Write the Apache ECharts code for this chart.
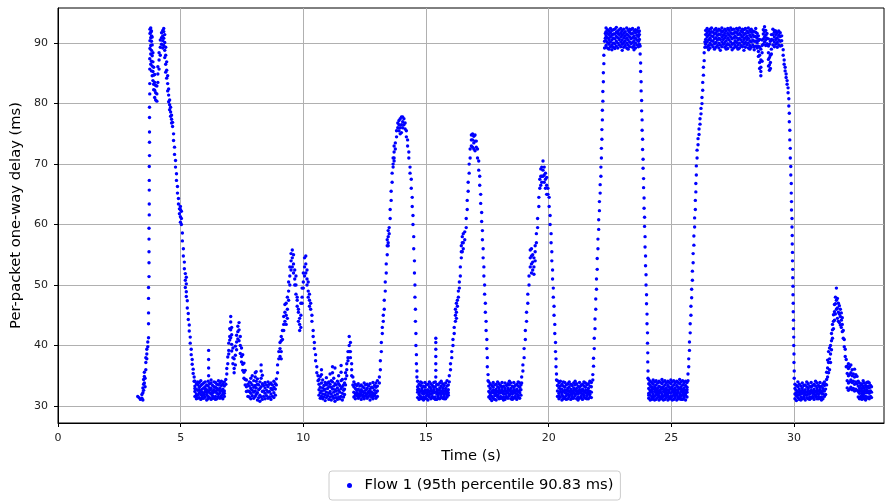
<!DOCTYPE html>
<html>
<head>
<meta charset="utf-8">
<script src="https://cdn.jsdelivr.net/npm/echarts@6/dist/echarts.min.js"></script>
<style>html,body{margin:0;padding:0;background:#fff}#c{width:885px;height:502px}</style>
</head>
<body>
<div id="c"></div>
<script>
// Each entry: [time (s), [delays (ms) observed at that time]]
const startRise = [
[3.25,[31.6]],[3.30,[31.4]],[3.36,[31.1]],[3.42,[31.3,31.9]],[3.46,[31.0,32.2,33.0]],[3.49,[33.6,34.4,32.6]],
[3.52,[34.9,35.6,33.8]],[3.55,[33.2,34.6]],[3.58,[36.0,37.2,38.0]],[3.62,[38.6,39.4,37.8]],[3.66,[39.8,40.6]],
[3.69,[41.3,43.6,45.4,47.8,49.6]],[3.71,[51.4,53.7,55.5,57.6,59.4]],[3.72,[61.6,63.4,65.7,67.3,69.6]],
[3.73,[71.4,73.6,75.3,77.7,79.4]],[3.74,[81.6,83.3,85.7,87.4]],[3.75,[89.1,90.4,91.6,92.3]],
[3.78,[92.5,91.8,90.9,89.6,88.2,86.5]],[3.81,[92.0,91.2,90.3,88.8,87.0,85.4]],[3.84,[91.0,89.7,87.9,86.2,84.6]],
[3.87,[88.4,86.9,85.3,83.8]],[3.90,[86.0,84.7,83.2,82.3]],[3.94,[84.8,83.5,82.2,81.0]],[3.98,[83.0,81.8,80.6]],
[4.03,[80.4,81.6,82.9]],[4.07,[83.5,84.9,86.1]],[4.12,[85.7,87.2,88.4]],[4.17,[88.0,89.3,90.5]],[4.22,[89.8,90.9,91.7]],
[4.27,[91.2,92.1,90.4,89.2]],[4.31,[91.9,90.8,89.6,92.4]],[4.35,[91.4,90.1,88.8,87.6]],[4.39,[89.3,88.0,86.5,85.2]],
[4.43,[86.9,85.5,84.2]],[4.47,[84.6,83.3,82.1]],[4.51,[82.4,81.4,80.3]],[4.55,[80.6,79.8,79.0]],[4.59,[79.4,78.6,77.9]],
[4.63,[78.1,77.4,76.8]],[4.67,[76.9,76.2]],[4.71,[75.0,73.9]],[4.75,[72.8,71.6]],[4.79,[70.6,69.5]],[4.83,[68.4,67.3]],
[4.87,[66.3,65.2]],[4.91,[64.3,63.4]],[4.95,[62.6,61.8]],[4.99,[60.4,61.3,62.5,63.0]],[5.03,[60.0,61.0,62.2]],
[5.07,[58.6,57.3]],[5.11,[56.0,54.8]],[5.15,[53.8,52.7]],[5.19,[51.9,50.8,49.6]],[5.23,[51.3,50.2,48.9,48.1]],
[5.27,[47.4,46.2]],[5.31,[45.3,44.3]],[5.35,[43.4,42.4]],[5.39,[41.4,40.4]],[5.43,[39.4,38.5]],[5.47,[37.7,36.9]],
[5.51,[36.1,35.4]],[5.55,[34.8,34.1]]
];
const band1 = [
[5.58,[31.6,32.4,33.3,34.1,32.9]],[5.64,[31.2,32.0,32.8,33.7,31.7]],[5.70,[31.8,32.6,33.5,31.3,34.0]],
[5.76,[31.4,32.2,33.1,33.9,32.7]],[5.82,[31.1,31.9,32.5,33.4,34.2]],[5.88,[31.7,32.8,33.6,31.3,32.3]],
[5.94,[31.3,32.1,33.0,33.8,31.8]],[6.00,[31.5,32.4,33.2,34.0,32.8]],[6.06,[31.0,31.9,32.7,33.5,32.3]],
[6.12,[31.6,32.5,33.3,34.1,31.2]],[6.14,[35.0,36.3,37.7,39.2]],[6.18,[31.4,32.2,33.0,33.7,32.6]],
[6.24,[31.1,32.0,32.9,33.8,34.3]],[6.30,[31.7,32.5,33.4,31.3,32.2]],[6.36,[31.3,32.3,33.2,34.0,32.7]],
[6.42,[31.6,32.4,33.1,33.9,31.1]],[6.48,[31.2,32.1,32.9,33.6,32.6]],[6.54,[31.5,32.7,33.5,34.2,31.9]],
[6.60,[31.3,32.2,33.0,33.8,32.5]],[6.66,[31.7,32.6,33.4,34.1,31.4]],[6.72,[31.2,32.0,32.8,33.7,32.4]],
[6.78,[31.6,32.5,33.3,34.0,32.1]]
];
const bump1 = [
[6.84,[33.6,34.4]],[6.88,[35.3,36.2]],[6.92,[37.0,38.1]],[6.96,[39.2,40.4,38.6]],[7.00,[41.5,42.8,40.9]],
[7.04,[43.9,44.8,42.6,41.3]],[7.08,[40.2,39.1,41.8,43.0]],[7.13,[38.0,37.0,39.6]],[7.18,[36.2,37.8,35.5]],
[7.23,[36.8,38.4,39.9]],[7.28,[40.6,41.7,39.3]],[7.33,[42.3,43.2,41.1]],[7.38,[43.8,42.6,40.8]],[7.43,[41.5,40.0,38.7]],
[7.48,[39.6,38.2,37.3]],[7.53,[38.5,36.9,35.9]],[7.58,[37.1,35.6,34.6]],[7.63,[35.9,34.4,33.5]],[7.68,[34.3,33.2,32.4]],
[7.74,[33.6,32.5,31.6]]
];
const band2 = [
[7.80,[31.5,32.4,33.3,34.0]],[7.86,[31.2,32.1,32.9,33.8,34.6]],[7.92,[31.7,32.6,33.5,35.0]],[7.98,[31.3,32.3,33.1,34.2]],
[8.04,[31.6,32.5,33.4,34.8,35.5]],[8.08,[31.9,33.0,34.1,35.7]],[8.13,[31.0,32.2,33.6,34.5]],[8.18,[31.4,32.7,33.5]],
[8.23,[30.8,31.8,32.9,34.0]],[8.28,[31.5,33.2,34.6,35.8,36.8]],[8.33,[31.1,32.4,33.7,35.1]],[8.38,[31.6,32.5,33.4]],
[8.44,[31.2,32.1,33.0,33.9]],[8.50,[31.7,32.6,33.5]],[8.56,[31.3,32.3,33.2,34.0]],[8.62,[31.5,32.4,33.6]],
[8.68,[31.1,32.0,32.9,33.8]],[8.74,[31.6,32.7,33.5]],[8.80,[31.4,32.2,33.1,34.1]],[8.86,[31.8,32.8,33.7]]
];
const bump2 = [
[8.90,[33.5,34.5]],[8.95,[35.5,36.8]],[9.00,[37.8,39.0]],[9.05,[39.5,40.5,38.2]],[9.10,[40.8,41.5,39.0,37.8]],
[9.15,[41.0,42.5]],[9.20,[43.5,44.8,42.5]],[9.25,[45.5,46.8,44.0]],[9.30,[47.0,45.0,43.5]],[9.35,[44.5,46.0,48.0]],
[9.40,[49.0,50.5,47.5]],[9.45,[51.5,53.0,50.0]],[9.50,[54.0,55.2,52.5]],[9.55,[55.8,54.5,53.0]],[9.60,[55.0,53.5,52.0]],
[9.65,[52.5,51.0,50.0]],[9.70,[51.5,50.0,48.5]],[9.75,[48.0,46.5,47.5]],[9.80,[45.5,44.0,46.0]],[9.85,[43.5,42.5,44.5]],
[9.90,[43.0,45.0,47.0]],[9.95,[48.0,49.5,47.0]],[10.00,[50.5,52.0,49.5]],[10.05,[53.0,54.5,51.5]],[10.10,[54.8,53.5,52.0]],
[10.15,[52.5,51.0,50.0]],[10.20,[50.5,49.0,48.0]],[10.25,[48.5,47.5,46.5]],[10.30,[47.0,46.0]],[10.35,[45.0,44.0]],
[10.40,[42.5,41.5]],[10.45,[40.5,39.5]],[10.50,[38.5,37.5]],[10.55,[36.5,35.5]],[10.60,[35.0,34.2]]
];
const band3 = [
[10.64,[31.8,32.7,33.6,34.4]],[10.69,[31.3,32.2,33.1,34.9]],[10.74,[31.6,32.5,33.8,35.2,36.0]],[10.79,[31.2,32.0,33.0,34.3]],
[10.84,[31.5,32.6,33.4]],[10.89,[30.9,31.9,32.8,33.9]],[10.94,[31.4,32.3,33.5,34.7]],[10.99,[31.7,32.9,33.8]],
[11.04,[31.1,32.1,33.2,34.0]],[11.09,[31.5,32.4,33.6,35.3]],[11.14,[31.0,32.0,33.1,34.2]],[11.19,[31.6,32.8,34.0,35.5,36.5]],
[11.24,[31.3,32.3,33.3,34.6]],[11.29,[30.8,31.8,32.7,33.7,36.3]],[11.34,[31.4,32.5,33.5]],[11.39,[31.1,32.0,33.0,34.1]],
[11.44,[31.5,32.6,33.7,35.0]],[11.49,[31.2,32.3,33.4]],[11.54,[31.6,32.9,34.2,35.6,36.7]],[11.59,[31.0,32.1,33.2,34.4]],
[11.64,[31.5,32.6,33.5]],[11.68,[31.9,32.8,33.8]]
];
const bump3 = [
[11.72,[33.5,34.5,35.5]],[11.77,[36.0,37.0,35.0]],[11.82,[38.0,39.0,37.5]],[11.87,[40.0,41.5,39.0]],
[11.92,[40.5,39.0,38.0]],[11.97,[37.0,36.0,35.0]],[12.02,[34.8,33.5]]
];
const band4 = [
[12.06,[31.5,32.3,33.2,34.0]],[12.12,[31.2,32.1,32.9,33.6,31.8]],[12.18,[31.7,32.6,33.4,32.2]],[12.24,[31.3,32.0,32.8,33.7,31.6]],
[12.30,[31.6,32.5,33.3,32.0]],[12.36,[31.1,31.9,32.7,33.5,32.3]],[12.42,[31.5,32.4,33.2,31.8]],[12.48,[31.2,32.2,33.0,33.8,31.6]],
[12.54,[31.7,32.6,33.5,32.1]],[12.60,[31.3,32.0,32.9,33.6,31.5]],[12.66,[31.6,32.4,33.3,32.2]],[12.72,[31.0,31.9,32.8,33.7,32.5]],
[12.78,[31.5,32.3,33.1,31.8]],[12.84,[31.2,32.1,33.0,33.9,31.6]],[12.90,[31.7,32.6,33.4,32.0]],[12.96,[31.3,32.2,33.1,33.8]],
[13.02,[31.6,32.5,33.3,34.2]]
];
const rise3 = [
[13.10,[33.8,34.8]],[13.14,[36.0,37.5]],[13.18,[39.0,40.5]],[13.22,[42.0,43.0]],[13.26,[44.0,45.0]],[13.30,[46.0,47.5]],
[13.34,[49.0,50.5]],[13.38,[52.0,53.5]],[13.42,[55.0,56.5,57.5]],[13.46,[56.5,58.0,59.0,57.0]],[13.50,[58.5,59.5]],
[13.54,[61.0,62.5]],[13.58,[64.0,65.5]],[13.62,[67.0,68.5]],[13.66,[69.5,71.0,70.0]],[13.70,[72.0,71.0,70.5,73.0]],
[13.75,[72.5,73.5]],[13.80,[74.5,75.5]],[13.85,[76.0,76.8]],[13.90,[76.5,77.2,75.5]],[13.95,[77.5,76.0,75.0]],
[14.00,[77.8,76.5,75.2]],[14.05,[77.0,77.8,76.0]],[14.10,[77.5,76.5]],[14.15,[76.8,75.8]],[14.20,[75.5,74.5]],
[14.25,[74.0,73.0]],[14.30,[72.0,71.0]],[14.35,[69.5,68.5]],[14.40,[67.5,66.0]],[14.44,[64.5,63.0]],[14.47,[61.5,60.0]],
[14.50,[58.0,56.0]],[14.53,[54.0,52.0]],[14.55,[50.0,48.0]],[14.57,[46.0,44.0]],[14.59,[42.0,40.0]],[14.61,[38.5,37.0]],
[14.63,[35.8,34.8]]
];
const band5 = [
[14.66,[31.4,32.3,33.2,34.1,32.7]],[14.72,[31.1,31.9,32.8,33.6,32.3]],[14.78,[31.6,32.5,33.4,31.3,34.0]],
[14.84,[31.2,32.1,33.0,33.8,32.6]],[14.90,[31.5,32.4,33.3,31.0,32.0]],[14.96,[31.3,32.2,33.1,33.9,32.6]],
[15.02,[31.7,32.6,33.5,31.2,32.1]],[15.08,[31.0,31.8,32.7,33.6,32.3]],[15.14,[31.5,32.4,33.2,34.0,31.9]],
[15.20,[31.2,32.0,32.9,33.7,32.5]],[15.26,[31.6,32.5,33.4,31.4,32.1]],[15.32,[31.3,32.2,33.1,33.9,32.7]],
[15.38,[31.5,32.3,33.2,34.0,31.1]],[15.40,[34.8,35.9,37.0,38.2,39.4,40.5,41.2]],[15.44,[31.1,32.0,32.8,33.6,32.4]],
[15.50,[31.7,32.6,33.5,31.3,32.1]],[15.56,[31.2,32.1,33.0,33.8,32.6]],[15.62,[31.5,32.4,33.3,34.1,31.9]],
[15.68,[31.3,32.2,33.0,33.7,32.6]],[15.74,[31.6,32.5,33.4,31.2,32.0]],[15.80,[31.2,32.1,32.9,33.8,32.5]],
[15.86,[31.5,32.4,33.3,34.2,31.8]],[15.91,[31.8,32.7,33.5,32.2]]
];
const rise4 = [
[15.95,[34.0,35.0]],[16.00,[36.0,37.0]],[16.05,[38.0,39.0]],[16.10,[40.0,41.0]],[16.15,[42.0,43.0]],
[16.20,[44.0,45.0,46.0]],[16.24,[45.5,47.0,44.5]],[16.28,[46.5,47.5]],[16.32,[48.0,49.0]],[16.36,[49.5,50.5]],
[16.40,[51.5,53.0]],[16.44,[54.5,55.5,56.5]],[16.48,[55.5,57.0,58.0]],[16.52,[57.0,58.5,56.0]],[16.58,[57.5,58.8]],
[16.64,[59.5,61.0]],[16.68,[62.5,64.0]],[16.72,[65.5,67.0]],[16.76,[68.5,70.0]],[16.80,[71.0,72.5]],
[16.85,[74.0,74.8,73.0]],[16.90,[75.0,74.0,72.8]],[16.95,[74.6,73.5,72.5]],[17.00,[74.8,73.8,72.2]],
[17.05,[73.8,72.8]],[17.10,[72.5,71.0]],[17.15,[70.5,69.0]],[17.19,[68.0,66.5]],[17.23,[65.0,63.5]],[17.27,[62.0,60.5]],
[17.30,[59.0,57.5]],[17.33,[56.0,54.5]],[17.36,[53.0,51.5]],[17.39,[50.0,48.5]],[17.42,[47.0,45.5]],[17.45,[44.0,42.5]],
[17.48,[41.0,39.5]],[17.50,[38.0,36.5]],[17.53,[35.2,34.2]]
];
const band6 = [
[17.56,[31.5,32.4,33.3,34.0]],[17.62,[31.2,32.1,32.9,33.7,31.8]],[17.68,[31.6,32.5,33.4,32.2,30.9]],
[17.74,[31.3,32.2,33.1,33.9,32.6]],[17.80,[31.7,32.6,33.5,31.1,32.1]],[17.86,[31.0,31.9,32.8,33.6,32.4]],
[17.92,[31.5,32.4,33.2,34.0,31.8]],[17.98,[31.2,32.1,33.0,33.7,32.6]],[18.04,[31.6,32.5,33.4,31.3,32.2]],
[18.10,[31.3,32.2,33.1,33.9,32.7]],[18.16,[31.5,32.4,33.3,31.0,32.0]],[18.22,[31.1,32.0,32.9,33.8,32.5]],
[18.28,[31.6,32.5,33.4,31.4,32.1]],[18.34,[31.3,32.2,33.0,33.7,32.6]],[18.40,[31.7,32.6,33.5,34.1,31.9]],
[18.46,[31.2,32.1,32.9,33.8,32.4]],[18.52,[31.5,32.4,33.3,31.1,32.0]],[18.58,[31.3,32.2,33.1,33.9,32.7]],
[18.64,[31.6,32.5,33.4,31.4,32.1]],[18.70,[31.1,32.0,32.8,33.6,32.5]],[18.76,[31.5,32.4,33.3,34.0,31.8]],
[18.82,[31.3,32.2,33.1,33.8,32.6]],[18.87,[31.8,32.7,33.5]]
];
const rise5 = [
[18.90,[33.8,34.8]],[18.95,[35.8,36.8]],[19.00,[38.0,39.5]],[19.05,[41.0,42.5]],[19.10,[44.0,45.5]],[19.15,[47.0,48.5]],
[19.20,[50.0,51.5]],[19.25,[53.0,54.5,55.8]],[19.30,[54.8,56.0,53.5,52.0]],[19.35,[52.5,53.8,55.0]],[19.40,[51.8,53.0,54.5]],
[19.45,[54.0,55.5,56.5]],[19.50,[57.0,58.5]],[19.55,[59.5,61.0]],[19.60,[63.0,64.5]],[19.64,[66.0,67.5]],
[19.68,[68.0,69.2,66.5]],[19.72,[69.5,68.0,67.0]],[19.77,[70.5,69.0,68.0]],[19.82,[69.5,68.2,67.0]],[19.87,[68.5,67.5,66.0]],
[19.92,[67.8,66.5,65.0]],[19.97,[66.0,65.0]],[20.02,[64.5,63.0]],[20.06,[61.5,60.0]],[20.10,[58.5,57.0]],[20.13,[55.5,54.0]],
[20.16,[52.5,51.0]],[20.19,[49.5,48.0]],[20.22,[46.5,45.0]],[20.25,[43.5,42.0]],[20.28,[40.5,39.0]],[20.30,[37.8,36.5]],
[20.32,[35.3,34.3]]
];
const band7 = [
[20.36,[31.6,32.5,33.4,34.2]],[20.42,[31.2,32.1,33.0,33.8,31.7]],[20.48,[31.5,32.4,33.3,34.1,32.8]],
[20.54,[31.0,31.9,32.8,33.6,32.3]],[20.60,[31.6,32.5,33.3,31.2,34.0]],[20.66,[31.3,32.2,33.1,33.9,32.6]],
[20.72,[31.7,32.6,33.5,31.1,32.1]],[20.78,[31.2,32.0,32.9,33.7,32.5]],[20.84,[31.5,32.4,33.2,34.0,31.8]],
[20.90,[31.1,32.0,32.8,33.6,32.4]],[20.96,[31.6,32.5,33.4,31.3,32.0]],[21.02,[31.3,32.2,33.0,33.8,32.6]],
[21.08,[31.7,32.6,33.5,34.1,31.9]],[21.14,[31.2,32.1,32.9,33.7,32.4]],[21.20,[31.5,32.4,33.3,31.0,32.0]],
[21.26,[31.3,32.2,33.1,33.9,32.7]],[21.32,[31.6,32.5,33.4,31.4,32.1]],[21.38,[31.1,32.0,32.8,33.6,32.5]],
[21.44,[31.5,32.4,33.3,34.0,31.8]],[21.50,[31.3,32.2,33.1,33.8,32.6]],[21.56,[31.7,32.6,33.5,31.2,32.1]],
[21.62,[31.2,32.0,32.9,33.7,32.4]],[21.68,[31.5,32.4,33.3,34.1,31.9]],[21.74,[31.4,32.3,33.2,33.9]]
];
const rise6 = [
[21.80,[34.3,35.2]],[21.83,[36.6,37.9]],[21.86,[39.5,41.2]],[21.89,[42.8,44.4]],[21.92,[46.0,47.7]],[21.95,[49.3,51.0]],
[21.98,[52.6,54.4]],[22.01,[56.0,57.6]],[22.04,[59.2,60.8]],[22.07,[62.3,63.8]],[22.10,[65.2,66.6]],[22.13,[68.0,69.5]],
[22.15,[71.0,72.6]],[22.17,[74.1,75.7]],[22.19,[77.3,78.9]],[22.21,[80.4,82.0]],[22.23,[83.6,85.1]],[22.25,[86.6,88.0]],
[22.28,[89.2,90.3]],[22.31,[90.8,91.6]]
];
const plateau1 = [
[22.34,[89.6,90.4,91.2,91.9,92.5]],[22.40,[89.2,90.1,90.9,91.6,92.2]],[22.46,[89.8,90.6,91.4,92.0,89.0]],
[22.52,[89.4,90.2,91.0,91.7,92.4]],[22.58,[89.7,90.5,91.3,92.1,88.9]],[22.64,[89.3,90.0,90.8,91.5,92.2]],
[22.70,[89.9,90.7,91.5,92.3,89.1]],[22.76,[89.5,90.3,91.1,91.8,92.6]],[22.82,[89.2,90.0,90.9,91.6,92.0]],
[22.88,[89.7,90.6,91.4,92.2]],[22.94,[89.4,90.2,91.0,91.7,92.4]],[23.00,[89.8,90.5,91.3,92.0,88.8]],
[23.06,[89.3,90.1,90.9,91.6,92.3]],[23.12,[89.6,90.4,91.2,91.9]],[23.18,[89.2,90.0,90.8,91.5,92.5]],
[23.24,[89.7,90.5,91.3,92.1,89.0]],[23.30,[89.4,90.2,91.0,91.8,92.3]],[23.36,[89.9,90.7,91.5,92.2]],
[23.42,[89.3,90.1,90.9,91.6,92.4]],[23.48,[89.6,90.4,91.2,92.0,88.9]],[23.54,[89.2,90.0,90.8,91.7,92.2]],
[23.60,[89.7,90.5,91.3,92.1]],[23.66,[89.4,90.3,91.1,91.8,92.5]],[23.70,[89.8,90.6,91.4,92.0]]
];
const drop1 = [
[23.73,[89.5,88.2]],[23.75,[86.7,85.3]],[23.77,[83.6,82.1]],[23.79,[80.5,78.8]],[23.81,[77.3,75.6]],[23.83,[74.1,72.4]],
[23.85,[70.8,69.3]],[23.87,[67.6,66.1]],[23.89,[64.4,62.7]],[23.91,[61.2,59.7]],[23.93,[58.0,56.3]],[23.95,[54.8,53.2]],
[23.97,[51.7,50.0]],[23.99,[48.4,46.9]],[24.01,[45.2,43.6]],[24.03,[42.1,40.4]],[24.04,[38.8,37.3]],[24.05,[35.8,34.6]]
];
const band8 = [
[24.08,[31.3,32.1,32.9,33.7,34.4,31.8]],[24.14,[31.0,31.8,32.6,33.4,34.1,32.3]],[24.20,[31.5,32.3,33.1,33.9,31.1,32.7]],
[24.26,[31.2,32.0,32.8,33.6,34.3,31.6]],[24.32,[31.6,32.4,33.2,34.0,31.0,32.9]],[24.38,[31.1,31.9,32.7,33.5,34.2,32.3]],
[24.44,[31.4,32.2,33.0,33.8,31.8,32.6]],[24.50,[31.0,31.7,32.5,33.3,34.1,32.1]],[24.56,[31.5,32.3,33.1,33.9,31.2,32.7]],
[24.62,[31.2,32.0,32.9,33.7,34.4,31.6]],[24.68,[31.6,32.4,33.2,34.0,32.8,31.0]],[24.74,[31.1,31.9,32.7,33.5,34.2,32.3]],
[24.80,[31.4,32.2,33.0,33.8,31.7,32.6]],[24.86,[31.0,31.8,32.6,33.4,34.1,32.1]],[24.92,[31.5,32.3,33.1,33.9,31.2,32.7]],
[24.98,[31.2,32.1,32.9,33.7,34.3,31.6]],[25.04,[31.6,32.4,33.2,34.0,32.8,31.0]],[25.10,[31.1,31.9,32.7,33.5,34.2,32.3]],
[25.16,[31.4,32.2,33.0,33.8,31.7,32.6]],[25.22,[31.0,31.8,32.6,33.4,34.1,32.1]],[25.28,[31.5,32.3,33.1,33.9,31.2,32.7]],
[25.34,[31.2,32.0,32.9,33.7,34.4,31.6]],[25.40,[31.6,32.4,33.2,34.0,32.8,31.1]],[25.46,[31.1,31.9,32.7,33.5,34.2,32.3]],
[25.52,[31.4,32.2,33.0,33.8,31.7,32.6]],[25.58,[31.0,31.8,32.6,33.4,34.1,32.1]],[25.64,[31.5,32.3,33.1,33.9,32.7]]
];
const rise7 = [
[25.68,[34.2,35.3]],[25.71,[36.5,37.8]],[25.74,[39.2,40.6]],[25.77,[42.1,43.6]],[25.80,[45.0,46.5]],[25.83,[47.9,49.3]],
[25.86,[50.8,52.3]],[25.89,[53.7,55.2]],[25.92,[56.6,58.1]],[25.95,[59.6,61.1]],[25.98,[62.5,64.0]],[26.00,[65.4,66.8]],
[26.02,[68.2,69.7]],[26.05,[71.0,72.3]],[26.09,[73.2,74.2]],[26.13,[74.9,75.8]],[26.17,[76.6,77.5]],[26.21,[78.3,79.2]],
[26.25,[80.0,81.0]],[26.28,[82.2,83.5]],[26.31,[84.7,86.0]],[26.34,[87.1,88.4]],[26.37,[89.3,90.2]]
];
const plateau2 = [
[26.40,[89.8,90.6,91.4,92.1]],[26.46,[89.3,90.2,91.0,91.7,92.4]],[26.52,[89.6,90.5,91.3,92.0,88.9]],
[26.58,[89.2,90.0,90.8,91.6,92.3]],[26.64,[89.7,90.4,91.2,91.9,92.5]],[26.70,[89.4,90.3,91.1,91.8]],
[26.76,[89.9,90.7,91.5,92.2,89.0]],[26.82,[89.3,90.1,90.9,91.7,92.4]],[26.88,[89.6,90.5,91.3,92.0]],
[26.94,[89.2,90.0,90.8,91.5,92.3]],[27.00,[89.7,90.6,91.4,92.1,88.8]],[27.06,[89.4,90.2,91.0,91.8,92.5]],
[27.12,[89.8,90.6,91.3,92.0]],[27.18,[89.3,90.1,90.9,91.6,92.3]],[27.24,[89.6,90.4,91.2,92.0,89.0]],
[27.30,[89.1,89.9,90.8,91.6,92.4]],[27.36,[89.7,90.5,91.3,92.1]],[27.42,[89.4,90.2,91.0,91.7,92.5]],
[27.48,[89.8,90.7,91.5,92.2,88.9]],[27.54,[89.2,90.0,90.9,91.6,92.3]],[27.60,[89.6,90.4,91.2,91.9]],
[27.66,[89.3,90.1,90.9,91.7,92.4]],[27.72,[89.7,90.5,91.4,92.1,89.0]],[27.78,[89.2,90.0,90.8,91.6,92.5]],
[27.84,[89.6,90.5,91.3,92.0]],[27.90,[89.4,90.2,91.0,91.8,92.3]],[27.96,[89.8,90.6,91.4,92.2,88.8]],
[28.02,[89.3,90.1,90.9,91.6,92.4]],[28.08,[89.7,90.5,91.2,92.0]],[28.14,[89.2,90.0,90.8,91.7,92.5]],
[28.20,[89.6,90.4,91.3,92.1,89.0]],[28.26,[89.3,90.2,91.0,91.8,92.3]],[28.32,[89.7,90.5,91.4,92.0]],
[28.38,[88.9,89.4,90.3,91.1,91.9]],[28.44,[89.5,90.3,91.1,91.8,92.4]],[28.50,[89.2,90.0,90.8,91.6]],
[28.55,[88.6,87.8,89.5,90.4,91.2]],[28.60,[88.0,86.8,85.8,89.3,90.6]],[28.65,[87.2,86.0,84.6,85.3,89.0]],
[28.70,[88.4,87.0,89.6,90.5]],[28.75,[89.8,90.7,91.5,92.2]],[28.80,[90.2,91.0,91.9,92.7]],
[28.85,[89.6,90.5,91.3,92.1]],[28.90,[89.9,90.8,91.6]],[28.96,[88.4,87.3,86.2,89.5,90.7]],
[29.00,[87.6,86.4,85.5,89.8]],[29.04,[88.0,86.8,85.8,90.3]],[29.08,[89.0,88.2,90.6,91.4]],
[29.14,[89.7,90.5,91.4,92.3]],[29.20,[89.4,90.2,91.0,91.8,92.1]],[29.26,[89.8,90.6,91.4,92.0]],
[29.32,[89.3,90.1,90.9,91.7]],[29.38,[89.7,90.5,91.3,92.0]],[29.44,[89.5,90.3,91.1,91.7]],[29.50,[89.6,90.4,91.2]]
];
const drop2 = [
[29.56,[88.9,88.0]],[29.60,[87.2,86.5]],[29.64,[86.0,85.4]],[29.68,[84.9,84.3]],[29.72,[83.8,83.2]],[29.76,[82.6,81.8]],
[29.79,[80.8,79.6]],[29.81,[78.4,77.0]],[29.83,[75.6,74.0]],[29.85,[72.6,71.0]],[29.87,[69.6,68.2]],[29.89,[66.8,65.2]],
[29.90,[63.8,62.4]],[29.92,[61.0,59.6]],[29.93,[58.2,56.8]],[29.94,[55.4,54.0]],[29.95,[52.6,51.2]],[29.96,[49.8,48.4]],
[29.97,[47.0,45.6]],[29.98,[44.2,42.8]],[29.99,[41.4,40.0]],[30.00,[38.6,37.2]],[30.01,[35.8,34.6]]
];
const band9 = [
[30.04,[31.2,32.0,32.9,33.6]],[30.10,[30.9,31.7,32.6,33.4,32.2]],[30.16,[31.4,32.3,33.2,34.0,31.8]],
[30.22,[31.1,31.9,32.8,33.6,32.4]],[30.28,[31.5,32.4,33.3,31.0,32.0]],[30.34,[31.2,32.1,33.0,33.8,32.6]],
[30.40,[31.6,32.5,33.4,31.3,32.1]],[30.46,[31.0,31.9,32.7,33.5,32.3]],[30.52,[31.4,32.3,33.2,34.0,31.8]],
[30.58,[31.2,32.0,32.9,33.7,32.5]],[30.64,[31.5,32.4,33.3,31.1,32.0]],[30.70,[31.3,32.2,33.1,33.9,32.6]],
[30.76,[31.6,32.5,33.4,31.4,32.1]],[30.82,[31.1,32.0,32.8,33.6,32.4]],[30.88,[31.5,32.4,33.3,34.1,31.8]],
[30.94,[31.2,32.1,33.0,33.8,32.6]],[31.00,[31.6,32.5,33.4,31.2,32.0]],[31.06,[31.3,32.2,33.1,33.9,32.7]],
[31.12,[31.5,32.4,33.3,31.0,32.1]],[31.18,[31.2,32.0,32.9,33.7,32.5]],[31.24,[31.6,32.5,33.4,34.0]],[31.29,[31.9,32.8,33.6]]
];
const bump4 = [
[31.33,[33.5,34.4,35.6]],[31.37,[34.8,36.3,37.6]],[31.41,[35.5,37.2,39.0]],[31.45,[36.0,37.8,39.6]],[31.49,[37.2,38.6,40.0]],
[31.53,[39.3,40.8,42.0]],[31.57,[41.2,42.6,43.5]],[31.61,[42.8,44.0,45.1]],[31.65,[44.2,45.6,46.8]],[31.69,[45.2,46.9,48.0]],
[31.73,[46.0,47.5,49.5]],[31.77,[44.5,46.2,47.8]],[31.81,[44.0,45.5,47.0]],[31.85,[43.8,45.2,46.6]],[31.89,[43.4,44.8,46.0]],
[31.93,[43.0,44.2,45.4]],[31.97,[42.3,43.5,44.6]],[32.01,[41.2,42.5]],[32.05,[39.8,41.0]],[32.09,[38.2,39.4]],
[32.13,[36.5,37.7]],[32.17,[33.0,34.2,35.4,36.6]],[32.22,[32.6,33.8,35.0,36.2,37.0]],[32.27,[32.8,34.0,35.2,36.5]],
[32.32,[33.1,34.3,35.5,36.8]],[32.37,[32.7,33.9,35.0,36.0]],[32.42,[32.9,34.1,35.3]],[32.47,[32.5,33.6,34.8,36.1]],
[32.52,[32.8,34.0,35.2]],[32.57,[32.6,33.7,34.9]]
];
const band10 = [
[32.62,[31.5,32.4,33.3,34.1]],[32.67,[31.2,32.1,33.0,33.8,32.6]],[32.72,[31.6,32.5,33.4,31.3]],
[32.77,[31.1,32.0,32.9,33.7,32.4]],[32.82,[31.5,32.4,33.3,34.2,31.8]],[32.87,[31.2,32.1,33.0,33.8,32.6]],
[32.92,[31.6,32.5,33.4,31.0]],[32.97,[31.3,32.2,33.1,33.9,32.7]],[33.02,[31.5,32.4,33.3,34.0]],
[33.07,[31.2,32.1,33.0,33.8]],[33.12,[31.6,32.5,33.4]],[33.16,[31.4,32.3,33.2]]
];

const seriesName = 'Flow 1 (95th percentile 90.83 ms)';
const xTicks = [0, 5, 10, 15, 20, 25, 30];
const yTicks = [30, 40, 50, 60, 70, 80, 90];

const segments = [startRise, band1, bump1, band2, bump2, band3, bump3, band4, rise3, band5, rise4, band6,
  rise5, band7, rise6, plateau1, drop1, band8, rise7, plateau2, drop2, band9, bump4, band10];
const points = [];
segments.forEach(seg => seg.forEach(([t, ds]) => ds.forEach(d => points.push([t, d]))));

const chart = echarts.init(document.getElementById('c'), null, {renderer: 'canvas'});
const font = 'DejaVu Sans';
chart.setOption({
  animation: false,
  backgroundColor: '#fff',
  textStyle: {fontFamily: font},
  grid: {left: 58, right: 1, top: 8, bottom: 79, show: true, borderColor: '#000', borderWidth: 1, backgroundColor: 'transparent'},
  xAxis: {
    type: 'value', min: 0, max: 33.67,
    name: 'Time (s)', nameLocation: 'middle', nameGap: 26,
    nameTextStyle: {fontSize: 14.7, color: '#000', fontFamily: font},
    axisLine: {show: true, onZero: false, lineStyle: {color: '#000', width: 1}},
    axisTick: {show: true, length: 4, lineStyle: {color: '#000'}, customValues: xTicks},
    axisLabel: {fontSize: 11, color: '#222', margin: 10, fontFamily: font, customValues: xTicks},
    splitLine: {show: true, lineStyle: {color: '#b0b0b0', width: 1}}
  },
  yAxis: {
    type: 'value', min: 27.2, max: 95.8, splitNumber: 7,
    name: 'Per-packet one-way delay (ms)', nameLocation: 'middle', nameGap: 34, nameMoveOverlap: false,
    nameTextStyle: {fontSize: 14.7, color: '#000', fontFamily: font},
    axisLine: {show: true, onZero: false, lineStyle: {color: '#000', width: 1}},
    axisTick: {show: true, length: 4, lineStyle: {color: '#000'}, customValues: yTicks},
    axisLabel: {fontSize: 11, color: '#222', margin: 10, fontFamily: font, customValues: yTicks},
    splitLine: {show: true, lineStyle: {color: '#b0b0b0', width: 1}}
  },
  legend: {
    data: [seriesName], left: 329, bottom: 2,
    icon: 'circle', itemWidth: 20, itemHeight: 5, itemGap: 10,
    padding: [7, 7, 7, 18],
    borderColor: '#cccccc', borderWidth: 1, borderRadius: 3,
    textStyle: {fontSize: 14.7, color: '#000', fontFamily: font}
  },
  series: [{
    name: seriesName, type: 'scatter', data: points,
    symbol: 'circle', symbolSize: 3.4,
    itemStyle: {color: '#0000ff', opacity: 1}
  }]
});
</script>
</body>
</html>
